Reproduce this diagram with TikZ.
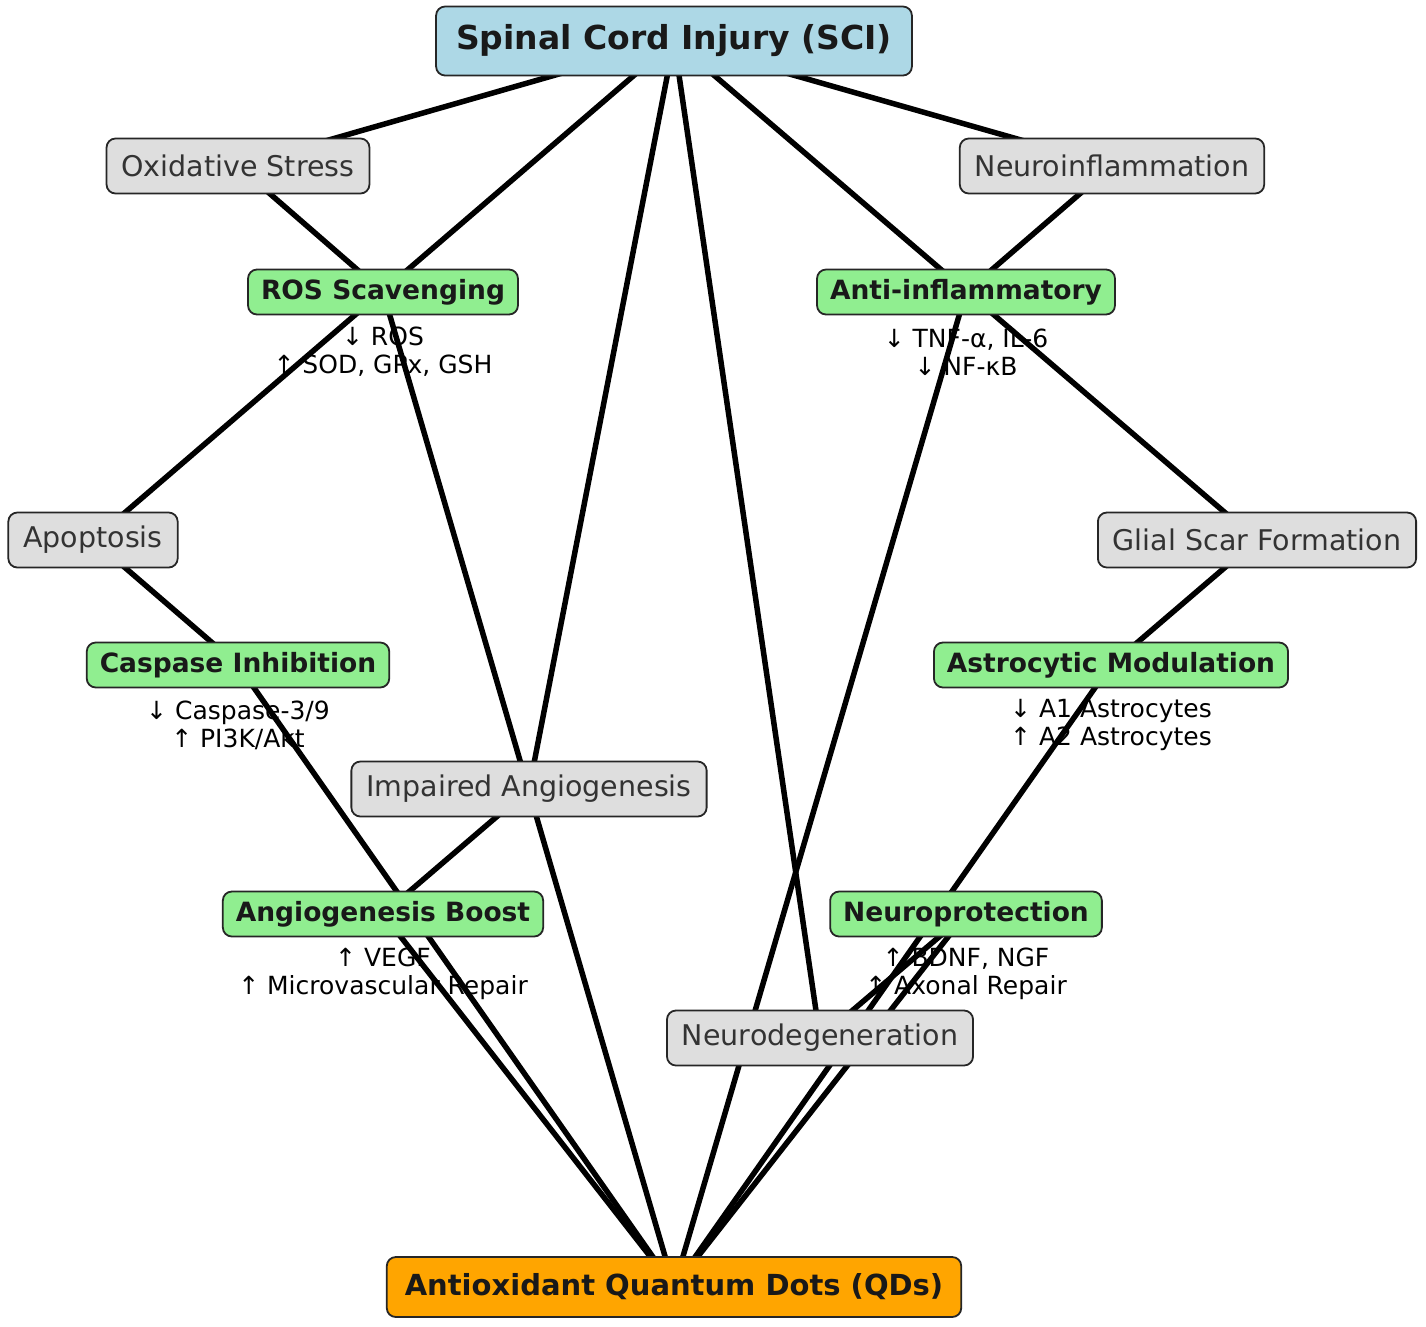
\documentclass[tikz,border=0pt]{standalone}
\usepackage{fontspec}
\setmainfont{DejaVu Sans}
\usetikzlibrary{backgrounds}
\definecolor{sciblue}{HTML}{ADD8E6}
\definecolor{qdorange}{HTML}{FFA500}
\definecolor{curegreen}{HTML}{90EE90}
\definecolor{harmgray}{HTML}{DEDEDE}
\pgfdeclarelayer{notes}
\pgfsetlayers{notes,background,main}
\begin{document}
\begin{tikzpicture}[x=1pt, y=-1pt,
  box/.style={draw=black!85, line width=1.8pt, rounded corners=9pt, inner ysep=0pt},
  harm/.style={box, fill=harmgray, text=black!80, inner xsep=15pt, minimum height=55pt, font=\fontsize{28.5}{32}\selectfont},
  cure/.style={box, fill=curegreen, text=black!90, inner xsep=13pt, minimum height=45pt, font=\bfseries\fontsize{26.5}{30}\selectfont},
  hub/.style={box, text=black!90, font=\bfseries},
  note/.style={align=center, font=\fontsize{25}{28}\selectfont},
  link/.style={line width=5.5pt}]
\useasboundingbox (0,0) rectangle (1426,1326);
% hubs
\node[hub, fill=sciblue, inner xsep=20pt, minimum height=69pt, font=\bfseries\fontsize{33}{38}\selectfont] (sci) at (674,41) {Spinal Cord Injury (SCI)};
\node[hub, fill=qdorange, inner xsep=18pt, minimum height=60pt, font=\bfseries\fontsize{29}{34}\selectfont] (qd) at (674,1287) {Antioxidant Quantum Dots (QDs)};
% injury side
\node[harm] (ox) at (238,166) {Oxidative Stress};
\node[harm] (infl) at (1112,166) {Neuroinflammation};
\node[harm] (apo) at (93,540) {Apoptosis};
\node[harm] (scar) at (1257,540) {Glial Scar Formation};
\node[harm] (angio) at (529,789) {Impaired Angiogenesis};
\node[harm] (degen) at (820,1038) {Neurodegeneration};
% QD effects
\node[cure] (ros) at (383,292) {ROS Scavenging};
\node[cure] (antinf) at (966,292) {Anti-inflammatory};
\node[cure] (casp) at (238,665) {Caspase Inhibition};
\node[cure] (astro) at (1111,665) {Astrocytic Modulation};
\node[cure] (boost) at (383,914) {Angiogenesis Boost};
\node[cure] (prot) at (966,914) {Neuroprotection};
\begin{pgfonlayer}{notes}
\node[note] (ros-n) at (383,352) {↓ ROS\\↑ SOD, GPx, GSH};
\node[note] (antinf-n) at (966,352) {↓ TNF-α, IL-6\\↓ NF-κB};
\node[note] (casp-n) at (238,725) {↓ Caspase-3/9\\↑ PI3K/Akt};
\node[note] (astro-n) at (1111,725) {↓ A1 Astrocytes\\↑ A2 Astrocytes};
\node[note] (boost-n) at (383,974) {↑ VEGF\\↑ Microvascular Repair};
\node[note] (prot-n) at (966,974) {↑ BDNF, NGF\\↑ Axonal Repair};
\end{pgfonlayer}
\begin{pgfonlayer}{background}
\foreach \h in {ox,infl,apo,scar,angio,degen}
  \draw[link] (sci.center) -- (\h.center);
\foreach \c in {ros,antinf,casp,astro,boost,prot}
  \draw[link] (qd.center) -- (\c.center);
\draw[link] (ros.center) -- (ox.center);
\draw[link] (antinf.center) -- (infl.center);
\draw[link] (casp.center) -- (apo.center);
\draw[link] (astro.center) -- (scar.center);
\draw[link] (boost.center) -- (angio.center);
\draw[link] (prot.center) -- (degen.center);
\end{pgfonlayer}
\end{tikzpicture}
\end{document}
